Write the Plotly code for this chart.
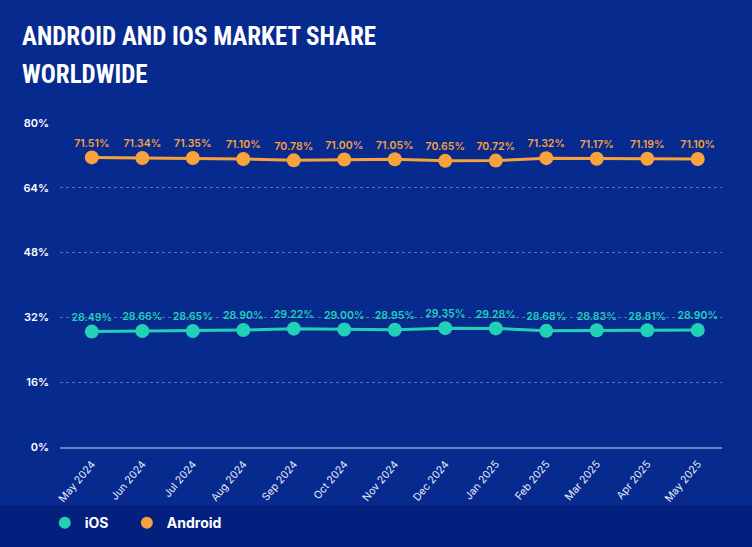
import plotly.graph_objects as go

months = ["May 2024", "Jun 2024", "Jul 2024", "Aug 2024", "Sep 2024", "Oct 2024",
          "Nov 2024", "Dec 2024", "Jan 2025", "Feb 2025", "Mar 2025", "Apr 2025", "May 2025"]
ios = [28.49, 28.66, 28.65, 28.90, 29.22, 29.00, 28.95, 29.35, 29.28, 28.68, 28.83, 28.81, 28.90]
android = [71.51, 71.34, 71.35, 71.10, 70.78, 71.00, 71.05, 70.65, 70.72, 71.32, 71.17, 71.19, 71.10]
y_ticks = [0, 16, 32, 48, 64, 80]
title_lines = ["ANDROID AND IOS MARKET SHARE", "WORLDWIDE"]
series = [("iOS", ios, "#22d0b6"), ("Android", android, "#f7a23c")]

BG = "#072a8f"
BAND = "#04207f"

fig = go.Figure()
for name, vals, col in series:
    fig.add_trace(go.Scatter(
        x=months, y=vals, name=name, mode="lines+markers", showlegend=False,
        line=dict(color=col, width=3), marker=dict(color=col, size=14),
    ))
    fig.add_trace(go.Scatter(
        x=months, y=[v + 2.0 for v in vals], mode="text", showlegend=False, hoverinfo="skip",
        text=[f"{v:.2f}%" for v in vals], textposition="top center",
        textfont=dict(color=col, size=10.5, family="Inter", weight=600),
        cliponaxis=False,
    ))
for (name, vals, col), lg in zip(series, ["legend", "legend2"]):
    fig.add_trace(go.Scatter(
        x=[None], y=[None], name=name, mode="markers", legend=lg,
        marker=dict(color=col, size=10),
    ))

leg_common = dict(
    orientation="h", xanchor="left", y=-0.235, yanchor="middle",
    font=dict(family="Inter", size=14, color="white", weight="bold"),
    itemsizing="constant", bgcolor="rgba(0,0,0,0)", itemwidth=30,
)

fig.update_layout(
    width=752, height=547,
    paper_bgcolor=BG, plot_bgcolor=BG,
    margin=dict(l=60, r=30, t=123, b=100, autoexpand=False),
    showlegend=True,
    legend=dict(x=-0.023, **leg_common),
    legend2=dict(x=0.101, **leg_common),
    shapes=[dict(type="rect", xref="paper", yref="paper", x0=-0.2, x1=1.1,
                 y0=-0.35, y1=-0.179, fillcolor=BAND, line=dict(width=0), layer="below")],
    annotations=[
        dict(text=t, xref="paper", yref="paper", x=-0.0605, y=yy, xanchor="left",
             yanchor="middle", align="left", showarrow=False,
             font=dict(family="Roboto Condensed, DejaVu Sans Condensed, sans-serif",
                       size=25, color="white", weight="bold"))
        for t, yy in zip(title_lines, [1.266, 1.149])
    ],
)

fig.update_xaxes(
    range=[-0.63, 12.48], showgrid=False, showline=True, automargin=False,
    linecolor="rgba(190,200,240,0.55)", linewidth=1.5,
    tickangle=-50, tickfont=dict(family="Inter", size=10.5, color="#e8ecf8"),
    ticks="", ticklabelstandoff=5,
)
fig.update_yaxes(
    range=[0, 80], tickvals=y_ticks, ticktext=[f"{v}%" for v in y_ticks],
    showgrid=True, gridcolor="rgba(190,200,240,0.45)", griddash="dot", gridwidth=1,
    zeroline=False, showline=False, automargin=False,
    tickfont=dict(family="Inter", size=11, color="white", weight=600),
    ticklabelstandoff=10,
)

fig.write_html("out.html")
